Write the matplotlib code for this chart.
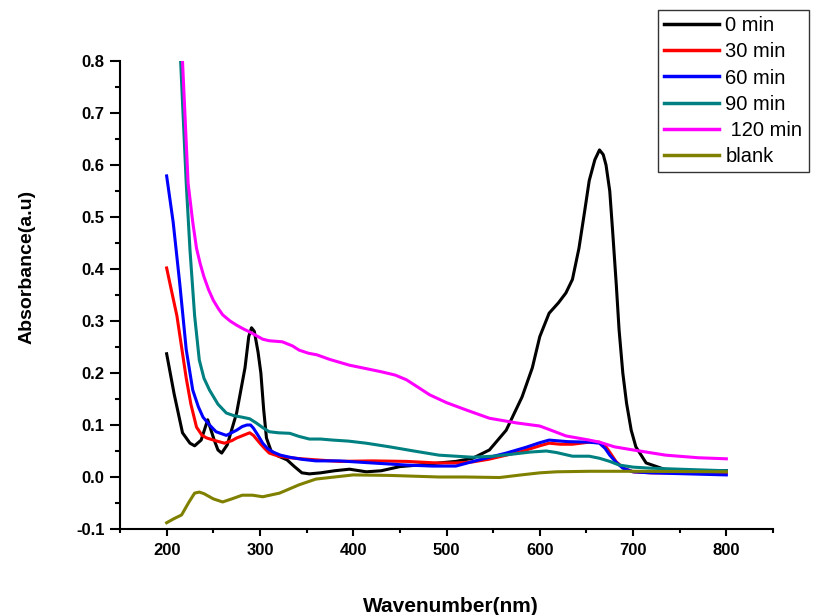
import numpy as np
import matplotlib
matplotlib.use('Agg')
import matplotlib.pyplot as plt
from matplotlib.ticker import MultipleLocator

plt.rcParams['font.family'] = ['Liberation Sans', 'DejaVu Sans']

# 0 min
wl_0 = [200, 208, 217, 225, 230, 237, 244, 251, 255, 259, 265, 275, 284, 288, 291, 294, 298,
        301, 304, 307, 312, 320, 329, 337, 345, 353, 365, 380, 396, 414, 430, 450, 470, 492,
        510, 528, 546, 564, 581, 592, 600, 610, 620, 628, 635, 642, 648, 653, 659, 664, 668,
        671, 675, 678, 682, 685, 689, 693, 698, 703, 714, 735, 760, 800]
abs_0 = [0.237, 0.16, 0.085, 0.065, 0.06, 0.071, 0.11, 0.071, 0.052, 0.046, 0.062, 0.123, 0.21,
         0.27, 0.287, 0.28, 0.24, 0.2, 0.13, 0.075, 0.05, 0.04, 0.033, 0.02, 0.008, 0.006,
         0.008, 0.012, 0.015, 0.01, 0.012, 0.02, 0.023, 0.027, 0.03, 0.036, 0.052, 0.09, 0.154,
         0.21, 0.27, 0.315, 0.335, 0.354, 0.38, 0.44, 0.51, 0.57, 0.61, 0.629, 0.62, 0.6, 0.55,
         0.475, 0.37, 0.283, 0.2, 0.142, 0.09, 0.058, 0.027, 0.014, 0.012, 0.012]

# 30 min
wl_30 = [200, 205, 211, 216, 221, 226, 232, 238, 243, 252, 262, 270, 275, 282, 289, 293, 300,
         305, 310, 320, 332, 345, 360, 385, 420, 457, 490, 510, 528, 545, 564, 582, 600, 610,
         622, 635, 653, 664, 671, 676, 682, 690, 700, 720, 800]
abs_30 = [0.402, 0.36, 0.31, 0.25, 0.19, 0.14, 0.096, 0.08, 0.075, 0.07, 0.065, 0.07, 0.075,
          0.08, 0.085, 0.08, 0.065, 0.055, 0.046, 0.04, 0.037, 0.035, 0.033, 0.03, 0.031, 0.03,
          0.027, 0.027, 0.029, 0.034, 0.042, 0.05, 0.06, 0.065, 0.063, 0.063, 0.067, 0.067,
          0.058, 0.045, 0.029, 0.017, 0.01, 0.008, 0.008]

# 60 min
wl_60 = [200, 207, 214, 221, 228, 234, 239, 246, 253, 264, 275, 281, 286, 290, 293, 298, 303,
         308, 314, 322, 332, 345, 360, 385, 420, 457, 485, 510, 535, 564, 585, 600, 610, 630,
         653, 664, 670, 675, 682, 689, 700, 718, 800]
abs_60 = [0.579, 0.49, 0.373, 0.245, 0.167, 0.135, 0.115, 0.1, 0.087, 0.08, 0.09, 0.097, 0.1,
          0.1, 0.094, 0.08, 0.065, 0.055, 0.048, 0.042, 0.038, 0.034, 0.031, 0.031, 0.027,
          0.023, 0.021, 0.021, 0.033, 0.046, 0.057, 0.066, 0.071, 0.068, 0.067, 0.065, 0.055,
          0.042, 0.028, 0.017, 0.01, 0.008, 0.004]

# 90 min
wl_90 = [200, 207, 215, 221, 225, 230, 235, 240, 246, 255, 264, 272, 281, 289, 296, 303, 310,
         320, 332, 342, 353, 365, 378, 395, 414, 439, 465, 492, 528, 550, 571, 590, 607, 618,
         635, 653, 664, 675, 685, 700, 718, 750, 800]
abs_90 = [1.3, 1.1, 0.8, 0.565, 0.437, 0.31, 0.225, 0.19, 0.167, 0.14, 0.123, 0.118, 0.115,
          0.112, 0.104, 0.095, 0.087, 0.085, 0.084, 0.078, 0.073, 0.073, 0.071, 0.069, 0.065,
          0.058, 0.05, 0.042, 0.038, 0.04, 0.044, 0.048, 0.05, 0.047, 0.04, 0.04, 0.036, 0.03,
          0.023, 0.019, 0.017, 0.015, 0.012]

# 120 min
wl_120 = [200, 210, 217, 223, 228, 232, 236, 240, 245, 250, 255, 260, 268, 275, 282, 289, 296,
          303, 310, 324, 335, 342, 352, 361, 375, 396, 415, 431, 445, 457, 470, 482, 500, 521,
          546, 575, 600, 615, 628, 653, 664, 680, 700, 735, 770, 800]
abs_120 = [1.4, 1.0, 0.8, 0.565, 0.49, 0.44, 0.41, 0.385, 0.36, 0.34, 0.325, 0.312, 0.3, 0.292,
           0.285, 0.279, 0.272, 0.265, 0.262, 0.26, 0.252, 0.244, 0.238, 0.235, 0.226, 0.215,
           0.208, 0.202, 0.196, 0.187, 0.172, 0.158, 0.143, 0.129, 0.113, 0.104, 0.098, 0.088,
           0.079, 0.071, 0.067, 0.058, 0.052, 0.042, 0.037, 0.035]

# blank
wl_blank = [200, 208, 216, 224, 230, 235, 240, 250, 260, 270, 281, 292, 303, 321, 342, 360, 380,
            400, 440, 492, 520, 557, 580, 600, 618, 653, 700, 800]
abs_blank = [-0.088, -0.08, -0.073, -0.048, -0.031, -0.029, -0.032, -0.042, -0.048, -0.042,
             -0.035, -0.035, -0.038, -0.031, -0.015, -0.004, 0.0, 0.004, 0.003, 0.0, 0.0, -0.001,
             0.004, 0.008, 0.01, 0.011, 0.011, 0.01]

series = [
    (wl_0, abs_0, '0 min', 'black'),
    (wl_30, abs_30, '30 min', '#FF0000'),
    (wl_60, abs_60, '60 min', '#0000FF'),
    (wl_90, abs_90, '90 min', '#008080'),
    (wl_120, abs_120, ' 120 min', '#FF00FF'),
    (wl_blank, abs_blank, 'blank', '#808000'),
]

fig = plt.figure(figsize=(8.17, 6.15), dpi=100)
ax = fig.add_axes([120 / 817, 1 - 529 / 615, 653 / 817, 468 / 615])

for wl, a, label, color in series:
    ax.plot(wl, a, color=color, lw=2.2, label=label, solid_joinstyle='round')

ax.set_xlim(150, 850)
ax.set_ylim(-0.1, 0.8)
ax.set_xticks(np.arange(200, 801, 100))
ax.set_yticks(np.arange(-0.1, 0.81, 0.1))
ax.set_yticklabels([f'{v:.1f}' for v in np.arange(-0.1, 0.81, 0.1)])
ax.xaxis.set_minor_locator(MultipleLocator(50))
ax.yaxis.set_minor_locator(MultipleLocator(0.05))

for side in ['top', 'right']:
    ax.spines[side].set_visible(False)
for side in ['left', 'bottom']:
    ax.spines[side].set_linewidth(1.5)

ax.tick_params(axis='y', which='major', direction='out', length=7, width=1.5, pad=4)
ax.tick_params(axis='y', which='minor', direction='out', length=3.5, width=1.5)
ax.tick_params(axis='x', which='major', direction='out', length=5, width=1.5, pad=5)
ax.tick_params(axis='x', which='minor', direction='out', length=3, width=1.5)
for lbl in ax.get_xticklabels() + ax.get_yticklabels():
    lbl.set_fontweight('bold')
    lbl.set_fontsize(12)

ax.set_xlabel('Wavenumber(nm)', fontsize=15, fontweight='bold')
ax.set_ylabel('Absorbance(a.u)', fontsize=14, fontweight='bold')
ax.xaxis.set_label_coords(0.507, -0.145)
ax.yaxis.set_label_coords(-0.13, 0.56)

leg = fig.legend(loc='upper left', bbox_to_anchor=(658 / 817, 1 - 10 / 615),
                 bbox_transform=fig.transFigure, borderaxespad=0,
                 fontsize=14.5, frameon=True, fancybox=False, shadow=False,
                 handlelength=2.75, handletextpad=0.3, labelspacing=0.36, borderpad=0.3)
leg.get_frame().set_edgecolor('black')
leg.get_frame().set_linewidth(1.0)
for line in leg.get_lines():
    line.set_linewidth(2.5)

fig.savefig('out.png', dpi=100)
